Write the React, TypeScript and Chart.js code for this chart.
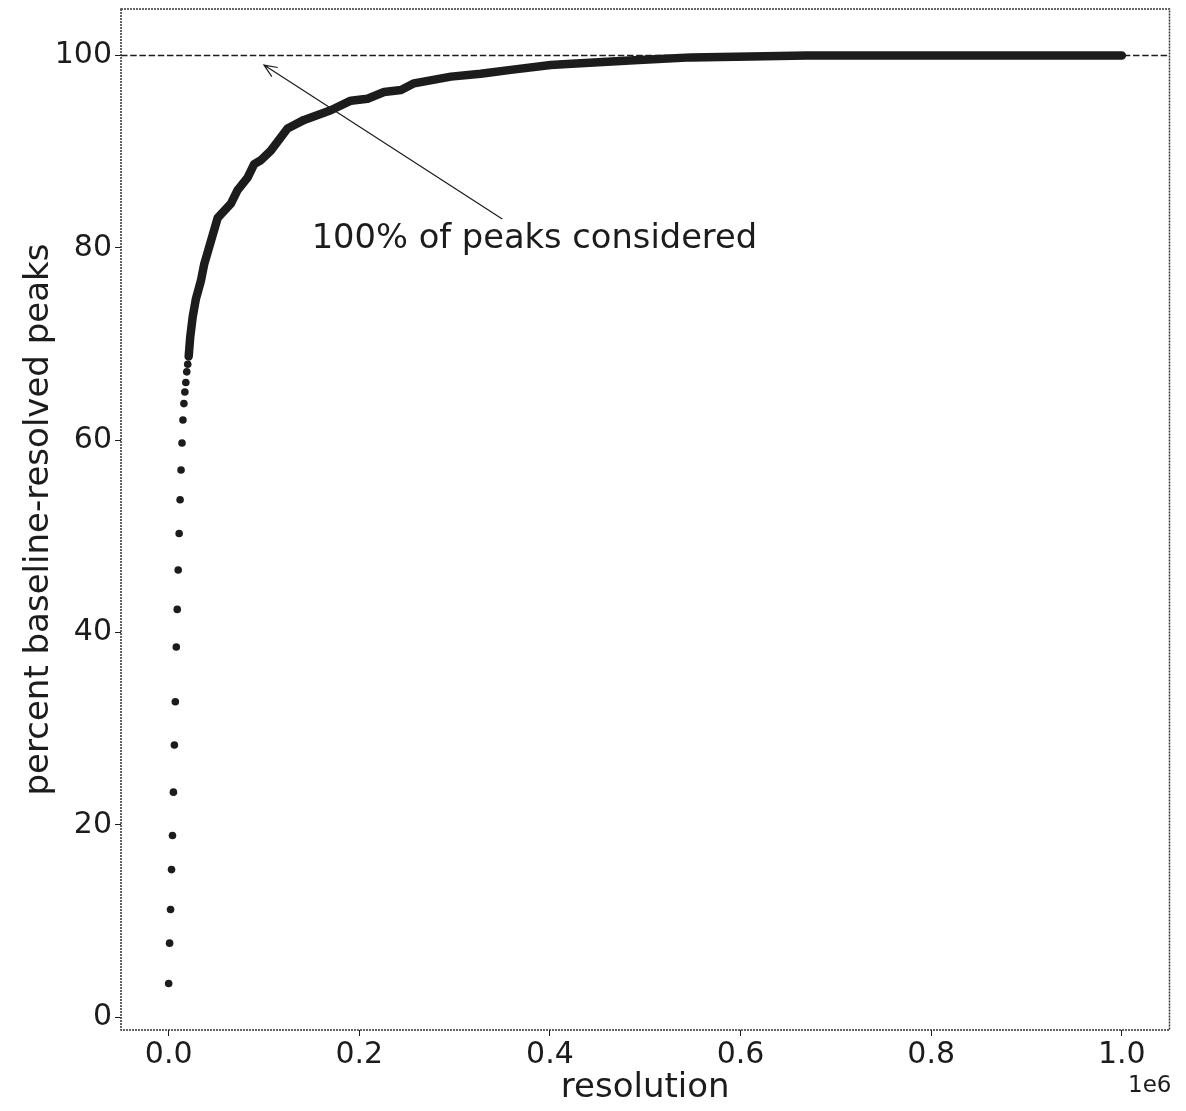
import { useEffect, useRef } from 'react';
import { Chart, registerables } from 'chart.js';

Chart.register(...registerables);

// Sparse low-resolution samples (individual dots)
const sparseResolution = [0, 1000, 2000, 3000, 4000, 5000, 6000, 7000, 8000, 9000, 10000, 11000, 12000, 13000, 14000, 15000, 16000, 17000, 18000, 19000, 20000];
const sparsePercent = [3.5, 7.7, 11.2, 15.35, 18.9, 23.4, 28.3, 32.8, 38.5, 42.4, 46.5, 50.3, 53.8, 56.9, 59.7, 62.1, 63.8, 65.0, 66.0, 67.1, 67.9];

// Dense region (drawn as a thick band of overlapping markers)
const denseResolution = [21000, 22600, 25200, 28600, 33900, 37300, 51400, 65300, 72300, 82800, 89700, 96700, 107200, 124700, 142100, 170100, 191100, 208600, 226000, 243800, 257400, 296100, 327400, 358900, 400800, 418200, 488100, 548300, 610400, 670000, 1000000];
const densePercent = [68.7, 70.7, 72.8, 74.7, 76.6, 78.3, 83.1, 84.6, 86.0, 87.3, 88.7, 89.1, 90.1, 92.4, 93.3, 94.3, 95.3, 95.5, 96.2, 96.4, 97.1, 97.8, 98.1, 98.5, 99.0, 99.1, 99.5, 99.8, 99.9, 100, 100];

const xTicks = [0, 200000, 400000, 600000, 800000, 1000000];
const yTicks = [0, 20, 40, 60, 80, 100];

const referenceLevel = 100;
const annotationText = '100% of peaks considered';
const annotationTextPos = [150000, 80];
const annotationTip = [100000, 99];
const annotationTail = [350000, 83];

const INK = '#1c1c1c';
const FONT = '"DejaVu Sans", sans-serif';

const decorPlugin = {
  id: 'decor',
  beforeDatasetsDraw(chart: any) {
    const { ctx, chartArea, scales } = chart;
    const y = scales.y.getPixelForValue(referenceLevel);
    ctx.save();
    ctx.strokeStyle = INK;
    ctx.lineWidth = 1.5;
    ctx.setLineDash([6.5, 2.7]);
    ctx.beginPath();
    ctx.moveTo(chartArea.left, y);
    ctx.lineTo(chartArea.right, y);
    ctx.stroke();
    ctx.restore();
  },
  afterDraw(chart: any) {
    const { ctx, chartArea, scales } = chart;
    const { left, right, top, bottom } = chartArea;
    ctx.save();
    // frame
    ctx.strokeStyle = '#333';
    ctx.lineWidth = 1.5;
    ctx.setLineDash([2, 1]);
    ctx.strokeRect(left, top, right - left, bottom - top);
    ctx.setLineDash([]);

    // annotation arrow
    const tx = scales.x.getPixelForValue(annotationTip[0]);
    const ty = scales.y.getPixelForValue(annotationTip[1]);
    const sx = scales.x.getPixelForValue(annotationTail[0]);
    const sy = scales.y.getPixelForValue(annotationTail[1]);
    ctx.strokeStyle = INK;
    ctx.lineWidth = 1.2;
    ctx.beginPath();
    ctx.moveTo(sx, sy);
    ctx.lineTo(tx, ty);
    const ang = Math.atan2(sy - ty, sx - tx);
    const hl = 14;
    const ha = 0.4;
    ctx.moveTo(tx + hl * Math.cos(ang + ha), ty + hl * Math.sin(ang + ha));
    ctx.lineTo(tx, ty);
    ctx.lineTo(tx + hl * Math.cos(ang - ha), ty + hl * Math.sin(ang - ha));
    ctx.stroke();

    // annotation text
    ctx.fillStyle = INK;
    ctx.font = `33.7px ${FONT}`;
    ctx.textAlign = 'left';
    ctx.textBaseline = 'alphabetic';
    ctx.fillText(
      annotationText,
      scales.x.getPixelForValue(annotationTextPos[0]),
      scales.y.getPixelForValue(annotationTextPos[1])
    );

    // offset text
    ctx.font = `23px ${FONT}`;
    ctx.textAlign = 'right';
    ctx.textBaseline = 'middle';
    ctx.fillText('1e6', right + 2, 1086);
    ctx.restore();
  },
};

export default function App() {
  const ref = useRef<HTMLCanvasElement>(null);
  useEffect(() => {
    if (!ref.current) return;
    const chart = new Chart(ref.current, {
      type: 'scatter',
      data: {
        datasets: [
          {
            label: 'dense',
            data: denseResolution.map((x, i) => ({ x, y: densePercent[i] })),
            showLine: true,
            borderColor: INK,
            backgroundColor: INK,
            borderWidth: 8.5,
            borderCapStyle: 'round',
            borderJoinStyle: 'round',
            pointRadius: 0,
          },
          {
            label: 'sparse',
            data: sparseResolution.map((x, i) => ({ x, y: sparsePercent[i] })),
            backgroundColor: INK,
            borderColor: INK,
            borderWidth: 0,
            pointRadius: 3.8,
          },
        ],
      },
      options: {
        animation: false,
        responsive: false,
        layout: { padding: { top: 9, right: 16.5, left: 0, bottom: 0 } },
        plugins: { legend: { display: false }, tooltip: { enabled: false } },
        scales: {
          x: {
            type: 'linear',
            min: -50000,
            max: 1050000,
            afterBuildTicks: (s: any) => {
              s.ticks = xTicks.map((v) => ({ value: v }));
            },
            afterFit: (s: any) => {
              s.height = 81;
              s.paddingLeft = 0;
              s.paddingRight = 0;
            },
            ticks: {
              callback: (v: any) => (Number(v) / 1e6).toFixed(1),
              font: { family: FONT, size: 30 },
              color: INK,
              padding: 1,
              maxRotation: 0,
            },
            grid: { drawOnChartArea: false, drawTicks: true, tickLength: 6, color: INK, lineWidth: 1 },
            border: { display: false },
            title: {
              display: true,
              text: 'resolution',
              font: { family: FONT, size: 34 },
              color: INK,
              padding: { top: 0, bottom: 2.6 },
            },
          },
          y: {
            type: 'linear',
            min: -1.33,
            max: 104.83,
            afterBuildTicks: (s: any) => {
              s.ticks = yTicks.map((v) => ({ value: v }));
            },
            afterFit: (s: any) => {
              s.width = 121;
              s.paddingTop = 0;
              s.paddingBottom = 0;
            },
            ticks: {
              callback: (v: any) => String(v),
              font: { family: FONT, size: 30 },
              color: INK,
              padding: 3,
            },
            grid: { drawOnChartArea: false, drawTicks: true, tickLength: 6, color: INK, lineWidth: 1 },
            border: { display: false },
            title: {
              display: true,
              text: 'percent baseline-resolved peaks',
              font: { family: FONT, size: 34 },
              color: INK,
              padding: { top: 18.6, bottom: 0 },
            },
          },
        },
      },
      plugins: [decorPlugin],
    });
    return () => chart.destroy();
  }, []);
  return (
    <div style={{ position: 'absolute', left: 0, top: 0, width: 1186, height: 1111, background: '#fff' }}>
      <canvas ref={ref} width={1186} height={1111} style={{ display: 'block' }} />
    </div>
  );
}
